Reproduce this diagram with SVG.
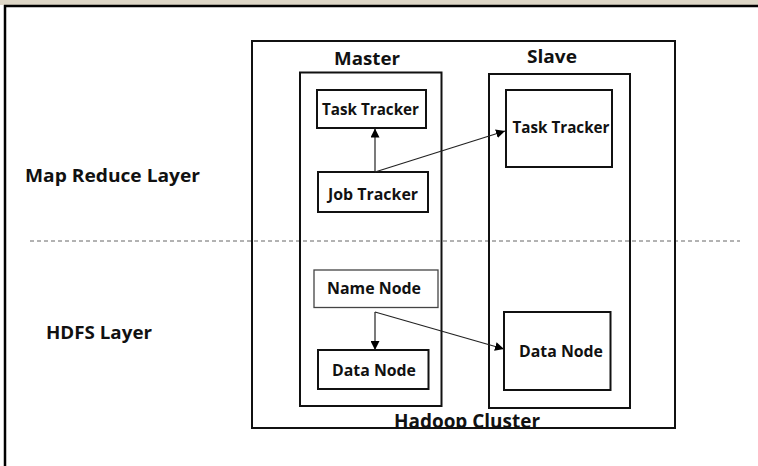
<svg xmlns="http://www.w3.org/2000/svg" width="758" height="466" viewBox="0 0 758 466">
<defs>
<marker id="ah" viewBox="0 0 10 10" refX="10" refY="5" markerWidth="9" markerHeight="9" markerUnits="userSpaceOnUse" orient="auto">
<path d="M0,0 L10,5 L0,10 z" fill="#000"/>
</marker>
<clipPath id="cl"><rect x="0" y="0" width="758" height="427"/></clipPath>
</defs>
<style>
.t{font-family:"Open Sans","Liberation Sans",sans-serif;font-weight:700;fill:#111;}
.box{fill:none;stroke:#111;stroke-width:2;}
.node{fill:#fff;stroke:#111;stroke-width:2;}
.conn{stroke:#222;stroke-width:1.2;fill:none;marker-end:url(#ah);}
</style>
<rect x="0" y="0" width="758" height="466" fill="#fff"/>
<rect x="0" y="0" width="758" height="5" fill="#ddd6c6"/>
<line x1="4" y1="6" x2="758" y2="6" stroke="#000" stroke-width="2.5"/>
<line x1="5" y1="5" x2="5" y2="466" stroke="#000" stroke-width="2.5"/>
<text class="t" x="25" y="182" font-size="17" textLength="175" lengthAdjust="spacingAndGlyphs">Map Reduce Layer</text>
<text class="t" x="46" y="339" font-size="17" textLength="106" lengthAdjust="spacingAndGlyphs">HDFS Layer</text>
<line x1="30" y1="241" x2="740" y2="241" stroke="#666" stroke-width="1" stroke-dasharray="4,3"/>
<g id="cluster">
<rect class="box" x="252" y="41" width="423" height="387"/>
<text class="t" x="467" y="428" font-size="19" text-anchor="middle" textLength="146" lengthAdjust="spacingAndGlyphs" clip-path="url(#cl)">Hadoop Cluster</text>
</g>
<g id="master">
<rect class="box" x="300" y="72.5" width="141.5" height="333.5"/>
<text class="t" x="367" y="65" font-size="17.5" text-anchor="middle" textLength="66" lengthAdjust="spacingAndGlyphs">Master</text>
</g>
<g id="slave">
<rect class="box" x="489" y="74" width="141" height="334"/>
<text class="t" x="552" y="63" font-size="17.5" text-anchor="middle" textLength="50" lengthAdjust="spacingAndGlyphs">Slave</text>
</g>
<g id="master-task-tracker">
<rect class="node" x="317" y="90" width="109" height="38"/>
<text class="t" x="370.5" y="115" font-size="15.5" text-anchor="middle" textLength="97" lengthAdjust="spacingAndGlyphs">Task Tracker</text>
</g>
<g id="job-tracker">
<rect class="node" x="318" y="172" width="110" height="40"/>
<text class="t" x="373" y="200" font-size="15.5" text-anchor="middle" textLength="90" lengthAdjust="spacingAndGlyphs">Job Tracker</text>
</g>
<g id="slave-task-tracker">
<rect class="node" x="506" y="90" width="106" height="77"/>
<text class="t" x="561" y="133" font-size="15.5" text-anchor="middle" textLength="97" lengthAdjust="spacingAndGlyphs">Task Tracker</text>
</g>
<g id="name-node">
<rect x="314" y="270" width="124" height="37.5" fill="#fff" stroke="#444" stroke-width="1.3"/>
<text class="t" x="374" y="294" font-size="15.5" text-anchor="middle" textLength="94" lengthAdjust="spacingAndGlyphs">Name Node</text>
</g>
<g id="master-data-node">
<rect class="node" x="318" y="350" width="110.5" height="39"/>
<text class="t" x="374" y="376" font-size="15.5" text-anchor="middle" textLength="84" lengthAdjust="spacingAndGlyphs">Data Node</text>
</g>
<g id="slave-data-node">
<rect class="node" x="504" y="312" width="106.5" height="78"/>
<text class="t" x="561" y="357" font-size="15.5" text-anchor="middle" textLength="84" lengthAdjust="spacingAndGlyphs">Data Node</text>
</g>
<g id="connectors">
<line class="conn" x1="375" y1="172" x2="375" y2="128.5"/>
<line class="conn" x1="375" y1="172" x2="505" y2="131"/>
<line class="conn" x1="375" y1="312" x2="375" y2="350"/>
<line class="conn" x1="375" y1="312" x2="504" y2="349"/>
</g>
</svg>
